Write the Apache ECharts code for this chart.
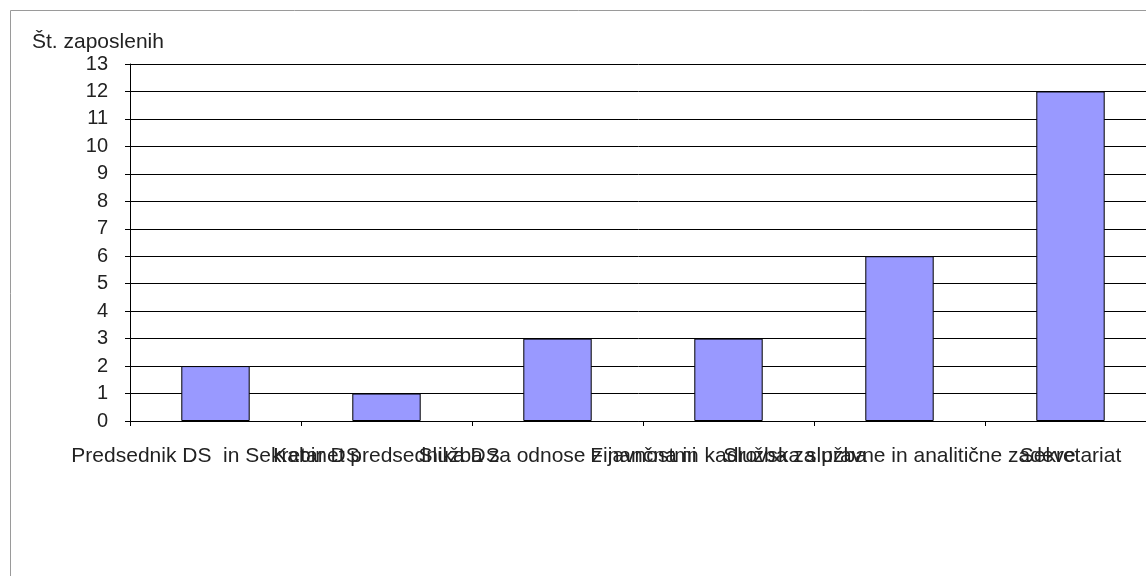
<!DOCTYPE html>
<html>
<head>
<meta charset="utf-8">
<script src="https://cdn.jsdelivr.net/npm/echarts@6/dist/echarts.min.js"></script>
<style>
html,body{margin:0;padding:0;background:#fff;}
#chart{width:1146px;height:576px;}
</style>
</head>
<body>
<div id="chart"></div>
<script>
const categories = [
  "Predsednik DS  in Sekretar DS",
  "Kabinet predsednika DS",
  "Služba za odnose z javnostmi",
  "Finančna in kadrovska služba",
  "Služba za pravne in analitične zadeve",
  "Sekretariat"
];
const employees = [2, 1, 3, 3, 6, 12];
const yAxisTitle = "Št. zaposlenih";
const yMin = 0, yMax = 13, yStep = 1;

const chart = echarts.init(document.getElementById('chart'), null, {renderer: 'canvas'});
const font = "'Liberation Sans', Arial, sans-serif";
chart.setOption({
  animation: false,
  backgroundColor: '#ffffff',
  grid: {left: 130, top: 64, bottom: 155, width: 1026, containLabel: false, outerBoundsMode: 'none'},
  graphic: [
    {type: 'rect', shape: {x: 10.5, y: 10.5, width: 1300, height: 700},
     style: {fill: 'none', stroke: '#9a9a9a', lineWidth: 1}, silent: true, z: -1},
    {type: 'text', left: 32, top: 32,
     style: {text: yAxisTitle, font: "21px 'Liberation Sans', Arial, sans-serif", fill: '#222'}}
  ],
  xAxis: {
    type: 'category',
    data: categories,
    boundaryGap: true,
    axisLine: {lineStyle: {color: '#000', width: 1}},
    axisTick: {show: true, alignWithLabel: false, length: 5, lineStyle: {color: '#000'}},
    axisLabel: {interval: 0, color: '#222', fontSize: 21, fontFamily: font, margin: 25, hideOverlap: false}
  },
  yAxis: {
    type: 'value',
    min: yMin, max: yMax, interval: yStep,
    axisLine: {show: true, lineStyle: {color: '#000', width: 1}},
    axisTick: {show: true, length: 5, lineStyle: {color: '#000'}},
    axisLabel: {color: '#222', fontSize: 20, fontFamily: font, margin: 22},
    splitLine: {show: true, lineStyle: {color: '#000', width: 1}}
  },
  series: [{
    type: 'bar',
    data: employees,
    barWidth: '40%',
    itemStyle: {color: '#9999ff', borderColor: '#000', borderWidth: 1}
  }]
});
</script>
</body>
</html>
